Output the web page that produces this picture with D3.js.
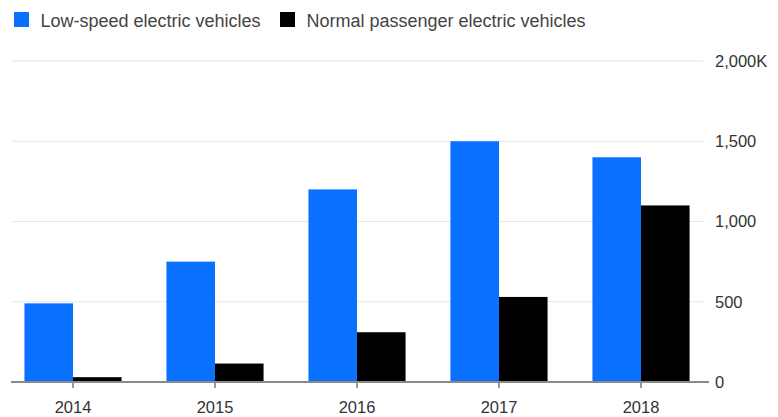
<!DOCTYPE html>
<html>
<head>
<meta charset="utf-8">
<script src="https://cdn.jsdelivr.net/npm/d3@7"></script>
<style>
  html, body { margin: 0; padding: 0; background: #fff; }
  svg { display: block; font-family: "Liberation Sans", Arial, sans-serif; }
</style>
</head>
<body>
<svg id="chart" width="778" height="417"></svg>
<script>
// Annual sales of electric vehicles, thousands
const years = ["2014", "2015", "2016", "2017", "2018"];
const seriesNames = ["Low-speed electric vehicles", "Normal passenger electric vehicles"];
const lowSpeed = [490, 750, 1200, 1500, 1400];
const passenger = [30, 115, 310, 530, 1100];
const yTicks = [0, 500, 1000, 1500, 2000];
const yTickLabels = ["0", "500", "1,000", "1,500", "2,000K"];
const colors = ["#0a70ff", "#000000"];

const svg = d3.select("#chart");

const x = d3.scaleBand().domain(years).range([2, 712]).paddingInner(0.316).paddingOuter(0.158);
const xInner = d3.scaleBand().domain([0, 1]).range([0, x.bandwidth()]);
const y = d3.scaleLinear().domain([0, 2000]).range([382, 61]);

// Horizontal gridlines
svg.append("g")
  .selectAll("line")
  .data(yTicks.filter(d => d > 0))
  .join("line")
  .attr("x1", 12).attr("x2", 703)
  .attr("y1", d => y(d)).attr("y2", d => y(d))
  .attr("stroke", "#e6e6e6").attr("stroke-width", 1);

// Right-hand value axis labels
const yAxis = d3.axisRight(y).tickValues(yTicks)
  .tickFormat((d, i) => yTickLabels[i]).tickSize(0).tickPadding(0);
const gy = svg.append("g").attr("transform", "translate(715,0)").call(yAxis);
gy.select(".domain").remove();
gy.selectAll("text").attr("fill", "#333").attr("font-size", 16.5)
  .attr("font-family", "'Liberation Sans', Arial, sans-serif");

// Bars
const rows = years.map((yr, i) => ({ year: yr, values: [lowSpeed[i], passenger[i]] }));
svg.append("g")
  .selectAll("g")
  .data(rows)
  .join("g")
  .attr("transform", d => `translate(${x(d.year)},0)`)
  .selectAll("rect")
  .data(d => d.values.map((v, k) => ({ k, v })))
  .join("rect")
  .attr("x", d => xInner(d.k))
  .attr("width", xInner.bandwidth())
  .attr("y", d => y(d.v))
  .attr("height", d => y(0) - y(d.v))
  .attr("fill", d => colors[d.k]);

// Category axis along the baseline
const xAxis = d3.axisBottom(x).tickSize(6).tickPadding(13);
const gx = svg.append("g").attr("transform", `translate(0,${y(0)})`).call(xAxis);
gx.select(".domain").remove();
gx.selectAll(".tick line").attr("stroke", "#333");
gx.selectAll("text").attr("fill", "#333").attr("font-size", 16.5)
  .attr("font-family", "'Liberation Sans', Arial, sans-serif");
svg.append("line")
  .attr("x1", 11).attr("x2", 709)
  .attr("y1", y(0)).attr("y2", y(0))
  .attr("stroke", "#8a8a8a").attr("stroke-width", 2);

// Legend
const legendX = [14, 280];
const legend = svg.append("g").selectAll("g")
  .data(seriesNames)
  .join("g")
  .attr("transform", (d, i) => `translate(${legendX[i]},12)`);
legend.append("rect").attr("width", 15).attr("height", 15)
  .attr("fill", (d, i) => colors[i]);
legend.append("text").attr("x", 26.5).attr("y", 14.5)
  .attr("font-size", 18).attr("fill", "#444")
  .text(d => d);
</script>
</body>
</html>
